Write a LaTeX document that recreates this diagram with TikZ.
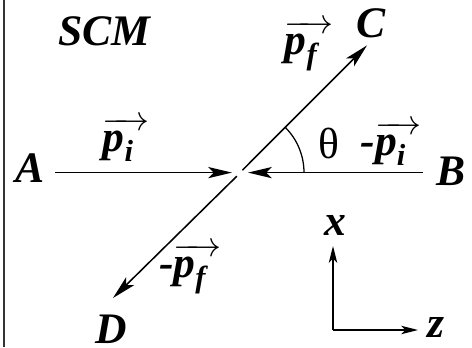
\documentclass[tikz,border=0pt]{standalone}
\usepackage{amsmath}
\usepackage{fontspec}
\setmainfont{Liberation Serif}
\usetikzlibrary{arrows.meta}
\newcommand{\vp}[1]{$\overrightarrow{\text{p}_{\smash{\text{#1}}}\mkern8mu}$}

\begin{document}
\begin{tikzpicture}[
    every node/.style={inner sep=0.5pt},
    lbl/.style={font=\fontsize{31}{34}\selectfont\bfseries\itshape, anchor=base},   % lettres
    mom/.style={-{Stealth[length=17pt,width=8pt,inset=4pt]}, line width=1.1pt},   % faisceaux
    axe/.style={-{Stealth[length=12pt,width=6pt,inset=3pt]}, line width=1.1pt},
    ang/.style={line width=0.9pt}
  ]
  \useasboundingbox (0,0) rectangle (11.8,8.675);
  \draw[line width=1pt, black!80] (0.1,0) -- (0.1,8.675);   % bord gauche

  % ============ points et etiquettes ==========================
  \coordinate (O) at (6.0,4.36);
  \node[lbl] (scm) at (2.61,7.55) {SCM};
  \node[lbl] (A) at (0.75,4.125) {A};
  \node[lbl] (B) at (11.28,4.05) {B};
  \node[lbl] (C) at (9.275,7.75) {C};
  \node[lbl] (D) at (2.775,0.1) {D};

  % ============ faisceaux entrants et sortants ================
  \coordinate (a0) at (1.375,4.36);  \coordinate (a1) at (5.8,4.36);
  \coordinate (b0) at (10.575,4.36); \coordinate (b1) at (6.2,4.36);
  \coordinate (c0) at (6.06,4.42);   \coordinate (c1) at (9.175,7.54);
  \coordinate (d0) at (5.92,4.27);   \coordinate (d1) at (2.825,1.225);
  \draw[mom] (a0) -- (a1);
  \draw[mom] (b0) -- (b1);
  \draw[mom] (c0) -- (c1);
  \draw[mom] (d0) -- (d1);

  \node[lbl] (pi) at (3.15,4.9) {\vp{i}};
  \node[lbl] (mpi) at (9.775,4.8) {-\vp{i}};
  \node[lbl] (pf) at (7.725,7.325) {\vp{f}};
  \node[lbl] (mpf) at (4.76,1.75) {-\vp{f}};

  % angle de diffusion
  \draw[ang] (O) ++(1.6,0) arc[start angle=0, end angle=45, radius=1.6];
  \node[lbl, font=\fontsize{31}{34}\selectfont] (th) at (8.225,4.725) {θ};

  % ============ axes ==========================================
  \coordinate (ax0) at (8.325,0.425);
  \coordinate (axx) at (8.325,2.525);
  \coordinate (axz) at (10.45,0.425);
  \draw[axe] (ax0) -- (axx);
  \draw[axe] (ax0) -- (axz);
  \node[lbl] (x) at (8.375,2.8) {x};
  \node[lbl] (z) at (10.9,0.25) {z};

\end{tikzpicture}
\end{document}
